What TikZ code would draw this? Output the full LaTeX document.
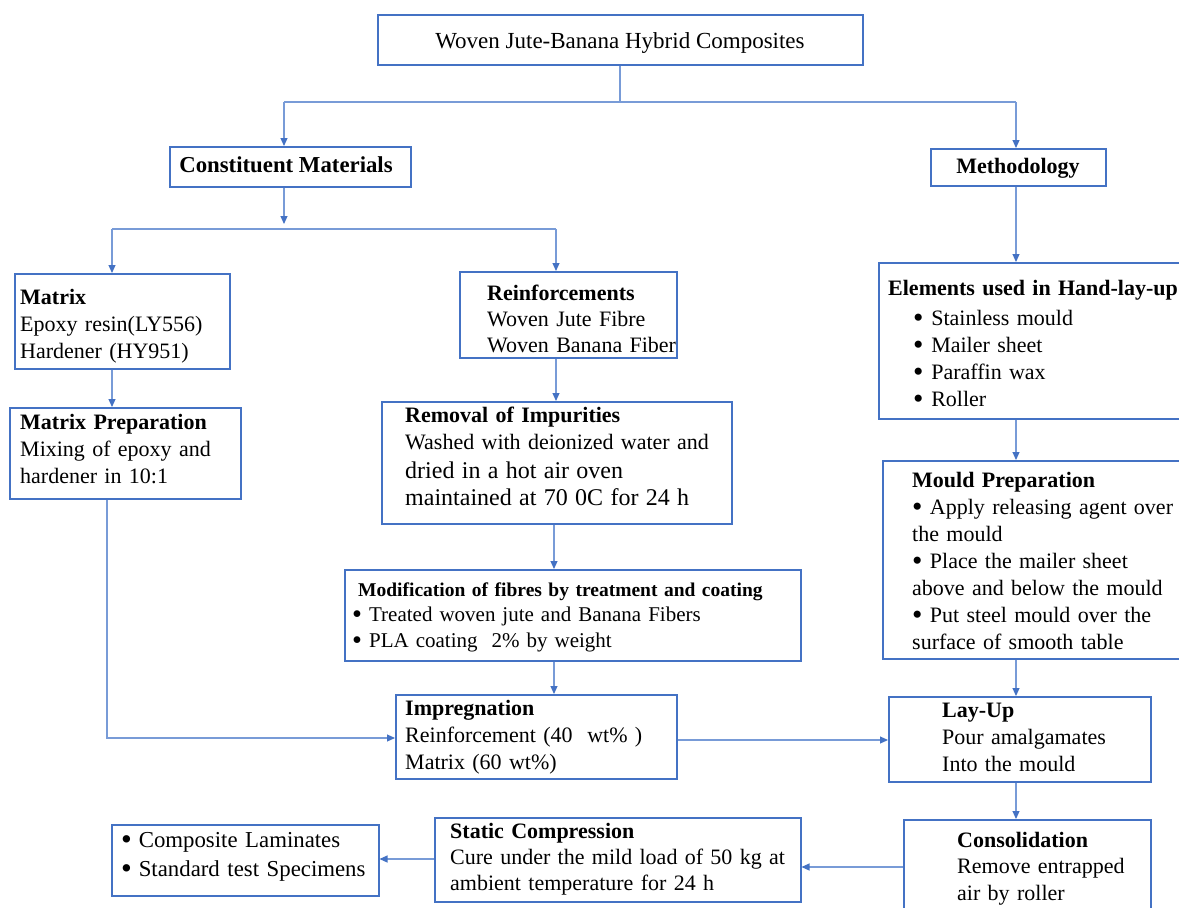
\documentclass[tikz,border=0pt]{standalone}
\usepackage{fontspec}
\usepackage{graphicx}
\setmainfont{Liberation Serif}
\usetikzlibrary{arrows.meta}
\definecolor{bx}{RGB}{68,114,196}
\definecolor{ln}{RGB}{120,155,215}
\newcommand\mybul{\raisebox{-0.11em}{\scalebox{1.35}{\textbullet}}}
\begin{document}
\begin{tikzpicture}[x=1pt,y=-1pt,
  box/.style={draw=bx, line width=1.5pt, inner sep=0pt, anchor=north west},
  txt/.style={anchor=base west, inner sep=0pt, text width=420pt, align=left, font=\fontsize{22}{27}\selectfont},
  ctr/.style={anchor=base, inner sep=0pt},
  conn/.style={draw=ln, line width=1.1pt},
  arr/.style={conn, -{Triangle[length=8pt,width=7pt,color=bx]}}
]
\useasboundingbox[fill=white] (0,0) rectangle (1179,908);

% boxes
\node[box, minimum width=485pt, minimum height=50pt] (title) at (377,14) {};
\node[box, minimum width=241pt, minimum height=40pt] (cons) at (169,146) {};
\node[box, minimum width=175pt, minimum height=37pt] (meth) at (930,148) {};
\node[box, minimum width=215pt, minimum height=95pt] (matrix) at (14,273) {};
\node[box, minimum width=217pt, minimum height=86pt] (reinf) at (459,271) {};
\node[box, minimum width=231pt, minimum height=91pt] (mprep) at (9,407) {};
\node[box, minimum width=350pt, minimum height=122pt] (remov) at (381,401) {};
\node[box, minimum width=456pt, minimum height=91pt] (modif) at (344,569) {};
\node[box, minimum width=281pt, minimum height=84pt] (impreg) at (395,694) {};
\node[box, minimum width=320pt, minimum height=156pt] (elem) at (878,262) {};
\node[box, minimum width=310pt, minimum height=198pt] (mould) at (882,460) {};
\node[box, minimum width=262pt, minimum height=85pt] (layup) at (888,696) {};
\node[box, minimum width=247pt, minimum height=110pt] (consol) at (903,819) {};
\node[box, minimum width=366pt, minimum height=84pt] (static) at (434,817) {};
\node[box, minimum width=267pt, minimum height=71pt] (output) at (111,824) {};

% texts
\node[ctr, font=\fontsize{23}{28}\selectfont] (title-t) at (620,48) {Woven Jute-Banana Hybrid Composites};
\node[ctr, font=\fontsize{22.8}{27}\selectfont\bfseries] (cons-t) at (286,172) {Constituent Materials};
\node[ctr, font=\fontsize{22}{27}\selectfont\bfseries] (meth-t) at (1018,173) {Methodology};
\node[txt] (matrix-t) at (20,304) {\textbf{Matrix}\\Epoxy resin(LY556)\\Hardener (HY951)};
\node[txt, font=\fontsize{22}{26}\selectfont] (reinf-t) at (487,300) {\textbf{Reinforcements}\\Woven Jute Fibre\\Woven Banana Fiber};
\node[txt] (mprep-t) at (20,429) {\textbf{Matrix Preparation}\\Mixing of epoxy and\\hardener in 10:1};
\node[txt] (remov-t) at (405,422) {\textbf{Removal of Impurities}\\Washed with deionized water and\par
  \fontsize{24}{29}\selectfont dried in a hot air oven\\maintained at 70 0C for 24 h};
\node[txt, font=\fontsize{19.5}{25}\selectfont\bfseries] (modif-h) at (358,596) {Modification of fibres by treatment and coating};
\node[txt, font=\fontsize{21}{26}\selectfont] (modif-t) at (352,621) {\mybul\ Treated woven jute and Banana Fibers\\\mybul\ PLA coating\ \ 2\% by weight};
\node[txt] (impreg-t) at (405,715) {\textbf{Impregnation}\\Reinforcement (40\ \ wt\% )\\Matrix (60 wt\%)};
\node[txt, font=\fontsize{22}{27}\selectfont\bfseries] (elem-h) at (888,295) {Elements used in Hand-lay-up};
\node[txt] (elem-t) at (913,325) {\mybul\hspace{0.35em}Stainless mould\\\mybul\hspace{0.35em}Mailer sheet\\\mybul\hspace{0.35em}Paraffin wax\\\mybul\hspace{0.35em}Roller};
\node[txt] (mould-t) at (912,487) {\textbf{Mould Preparation}\\\mybul\ Apply releasing agent over\\the mould\\\mybul\ Place the mailer sheet\\above and below the mould\\\mybul\ Put steel mould over the\\surface of smooth table};
\node[txt] (layup-t) at (942,717) {\textbf{Lay-Up}\\Pour amalgamates\\Into the mould};
\node[txt, font=\fontsize{22}{26.5}\selectfont] (consol-t) at (957,847) {\textbf{Consolidation}\\Remove entrapped\\air by roller};
\node[txt, font=\fontsize{22}{26}\selectfont] (static-t) at (450,838) {\textbf{Static Compression}\\Cure under the mild load of 50 kg at\\ambient temperature for 24 h};
\node[txt, font=\fontsize{22.8}{29}\selectfont] (output-t) at (121,847) {\mybul\hspace{0.3em}Composite Laminates\\\mybul\hspace{0.3em}Standard test Specimens};

% routing coordinates
\coordinate (xL) at (284,0);
\coordinate (xR) at (1016,0);
\coordinate (xT) at (620,0);
\coordinate (xM) at (112,0);
\coordinate (xN) at (556,0);
\coordinate (xC) at (554,0);
\coordinate (xP) at (107,0);
\coordinate (b0) at (620,103);
\coordinate (b1) at (284,102);
\coordinate (b2) at (1016,102);
\coordinate (c0) at (284,224);
\coordinate (c1) at (112,229);
\coordinate (c2) at (556,229);
\coordinate (p1) at (107,738);
\coordinate (yI) at (0,738);
\coordinate (yL) at (0,740);
\coordinate (yS) at (0,867);
\coordinate (yO) at (0,859);

% connectors
\draw[conn] (title.south -| xT) -- (b0);
\draw[conn] (b1) -- (b2);
\draw[arr] (b1) -- (cons.north -| xL);
\draw[arr] (b2) -- (meth.north -| xR);
\draw[arr] (cons.south -| xL) -- (c0);
\draw[conn] (c1) -- (c2);
\draw[arr] (c1) -- (matrix.north -| xM);
\draw[arr] (c2) -- (reinf.north -| xN);
\draw[arr] (matrix.south -| xM) -- (mprep.north -| xM);
\draw[arr] (reinf.south -| xN) -- (remov.north -| xN);
\draw[arr] (remov.south -| xC) -- (modif.north -| xC);
\draw[arr] (modif.south -| xC) -- (impreg.north -| xC);
\draw[arr] (mprep.south -| xP) -- (p1) -- (impreg.west |- yI);
\draw[arr] (impreg.east |- yL) -- (layup.west |- yL);
\draw[arr] (meth.south -| xR) -- (elem.north -| xR);
\draw[arr] (elem.south -| xR) -- (mould.north -| xR);
\draw[arr] (mould.south -| xR) -- (layup.north -| xR);
\draw[arr] (layup.south -| xR) -- (consol.north -| xR);
\draw[arr] (consol.west |- yS) -- (static.east |- yS);
\draw[arr] (static.west |- yO) -- (output.east |- yO);
\end{tikzpicture}
\end{document}
